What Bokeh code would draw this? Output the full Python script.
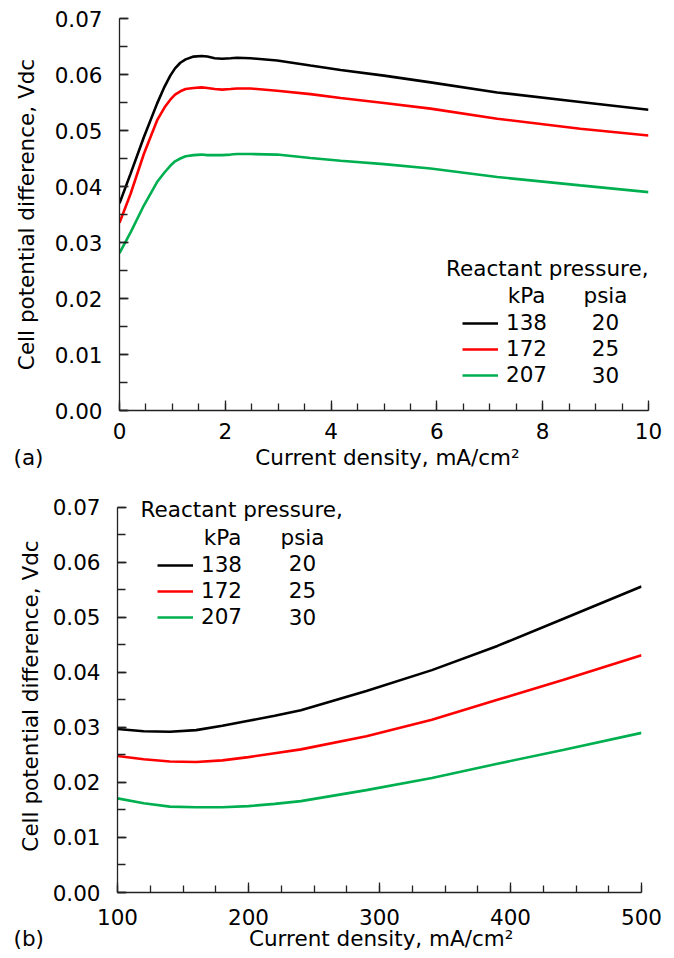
from bokeh.plotting import figure
from bokeh.models import (Range1d, SingleIntervalTicker, PrintfTickFormatter,
                          Legend, LegendItem, Label, Title)
from bokeh.embed import file_html
from bokeh.resources import INLINE

FONT = "DejaVu Sans"
FS = "21.5px"

# ---------------- data ----------------
pressure_kpa = ["138", "172", "207"]
pressure_psia = ["20", "25", "30"]
colors = ["#000000", "#ff0000", "#00b050"]

# (a) low current density, mA/cm2
a_current = [0, 0.21, 0.46, 0.71, 0.85, 0.96, 1.05, 1.15, 1.25, 1.4, 1.55,
             1.66, 1.8, 1.94, 2.1, 2.22, 2.48, 2.98, 3.61, 4.18, 5.0, 5.88,
             7.14, 8.71, 10]
a_v_138 = [0.0370, 0.0423, 0.0488, 0.0548, 0.0578, 0.0598, 0.0611, 0.0621,
           0.0627, 0.0632, 0.0633, 0.0632, 0.0629, 0.0628, 0.0629, 0.0630,
           0.0629, 0.0625, 0.0616, 0.0608, 0.0598, 0.0586, 0.0568, 0.0551,
           0.0537]
a_v_172 = [0.0335, 0.0387, 0.0458, 0.0518, 0.0541, 0.0555, 0.0564, 0.0570,
           0.0574, 0.0576, 0.0577, 0.0576, 0.0574, 0.0573, 0.0574, 0.0575,
           0.0575, 0.0571, 0.0565, 0.0558, 0.0549, 0.0539, 0.0521, 0.0503,
           0.0491]
a_v_207 = [0.0281, 0.0318, 0.0366, 0.0408, 0.0425, 0.0437, 0.0445, 0.0450,
           0.0454, 0.0456, 0.0457, 0.0456, 0.0456, 0.0456, 0.0457, 0.0458,
           0.0458, 0.0457, 0.0451, 0.0446, 0.0440, 0.0432, 0.0417, 0.0402,
           0.0390]

# (b) high current density, mA/cm2
b_current = [100, 120, 140, 160, 180, 200, 220, 240, 290, 340, 390, 440, 500]
b_v_138 = [0.0297, 0.0293, 0.0292, 0.0295, 0.0303, 0.0312, 0.0321, 0.0331,
           0.0366, 0.0404, 0.0448, 0.0497, 0.0556]
b_v_172 = [0.0248, 0.0242, 0.0238, 0.0237, 0.0240, 0.0246, 0.0253, 0.0260,
           0.0284, 0.0314, 0.0350, 0.0386, 0.0431]
b_v_207 = [0.0171, 0.0162, 0.0156, 0.0155, 0.0155, 0.0157, 0.0161, 0.0166,
           0.0186, 0.0208, 0.0234, 0.0259, 0.0290]

x_title = "Current density, mA/cm\u00b2"
y_title = "Cell potential difference, Vdc"
legend_title = "Reactant pressure,"
unit_kpa = "kPa"
unit_psia = "psia"
panel_tags = ["(a)", "(b)"]
NBSP = "\u00a0"


def style_axes(p, x_int, x_minor, tick_std_x, tick_std_y, lab_std_y):
    p.outline_line_color = None
    p.xgrid.visible = False
    p.ygrid.visible = False
    p.background_fill_color = "white"
    p.border_fill_color = "white"
    xa = p.xaxis[0]
    ya = p.yaxis[0]
    xa.ticker = SingleIntervalTicker(interval=x_int, num_minor_ticks=x_minor)
    ya.ticker = SingleIntervalTicker(interval=0.01, num_minor_ticks=2)
    ya.formatter = PrintfTickFormatter(format="%.2f")
    ya.bounds = (0, 0.07)
    for ax in (xa, ya):
        ax.axis_line_color = "#222222"
        ax.axis_line_width = 1.3
        ax.major_tick_line_color = "#222222"
        ax.minor_tick_line_color = "#222222"
        ax.major_tick_line_width = 1.3
        ax.minor_tick_line_width = 1.3
        ax.major_tick_out = 0
        ax.minor_tick_out = 0
        ax.major_label_text_font = FONT
        ax.major_label_text_font_size = FS
        ax.major_label_text_color = "black"
        ax.axis_label_text_font = FONT
        ax.axis_label_text_font_size = FS
        ax.axis_label_text_font_style = "normal"
        ax.axis_label_text_color = "black"
    xa.major_tick_in = 10
    xa.minor_tick_in = 7
    ya.major_tick_in = 9
    ya.minor_tick_in = 8
    xa.major_label_standoff = tick_std_x
    ya.major_label_standoff = tick_std_y
    ya.axis_label_standoff = lab_std_y


def add_text(p, text, x, y, align):
    p.add_layout(Label(x=x, y=y, x_units="screen", y_units="screen", text=text,
                       text_align=align, text_baseline="middle",
                       text_font=FONT, text_font_size=FS, text_color="black"))


def add_legend(p, rends, lx, ly):
    items = [LegendItem(label=k, renderers=[r]) for k, r in zip(pressure_kpa, rends)]
    leg = Legend(items=items, location=(lx, ly), orientation="vertical",
                 padding=0, spacing=1, margin=0, glyph_width=36, glyph_height=24,
                 label_height=24, label_standoff=8, label_text_font=FONT,
                 label_text_font_size=FS, label_text_color="black",
                 border_line_color=None, background_fill_alpha=0)
    p.add_layout(leg)


def add_bottom_title(p, tag, gap, offset, standoff):
    p.add_layout(Title(text=tag + NBSP * gap + x_title, align="left",
                       vertical_align="top", offset=offset, standoff=standoff,
                       text_font=FONT, text_font_size=FS,
                       text_font_style="normal", text_color="black"), "below")


# ---------------- (a) ----------------
p1 = figure(width=674, height=480, x_range=Range1d(0, 10), y_range=Range1d(0, 0.07),
            output_backend="svg", toolbar_location=None,
            min_border_left=119, min_border_right=26, min_border_top=18,
            min_border_bottom=70, y_axis_label=y_title)
style_axes(p1, 2, 4, 12, 17, 13)
add_bottom_title(p1, panel_tags[0], 31, -106, 6)
r1 = []
for ys, c in zip([a_v_138, a_v_172, a_v_207], colors):
    r1.append(p1.line(a_current, ys, line_color=c, line_width=2.6))
add_legend(p1, r1, 343, 23)
add_text(p1, legend_title, 529, 142, "right")
add_text(p1, unit_kpa, 407, 115, "center")
add_text(p1, unit_psia, 486, 115, "center")
for i, s in enumerate(pressure_psia):
    add_text(p1, s, 486, 89 - i * 26.5, "center")

# ---------------- (b) ----------------
p2 = figure(width=674, height=478, x_range=Range1d(100, 500), y_range=Range1d(0, 0.0714),
            output_backend="svg", toolbar_location=None,
            min_border_left=117, min_border_right=33, min_border_top=19,
            min_border_bottom=66, y_axis_label=y_title)
style_axes(p2, 100, 4, 16, 17, 7)
add_bottom_title(p2, panel_tags[1], 30, -104, -4)
r2 = []
for ys, c in zip([b_v_138, b_v_172, b_v_207], colors):
    r2.append(p2.line(b_current, ys, line_color=c, line_width=2.6))
add_legend(p2, r2, 40, 263)
add_text(p2, legend_title, 23, 383, "left")
add_text(p2, unit_kpa, 105, 355, "center")
add_text(p2, unit_psia, 185, 355, "center")
for i, s in enumerate(pressure_psia):
    add_text(p2, s, 185, 330 - i * 27, "center")

open("out.html", "w").write(file_html([p1, p2], INLINE))
